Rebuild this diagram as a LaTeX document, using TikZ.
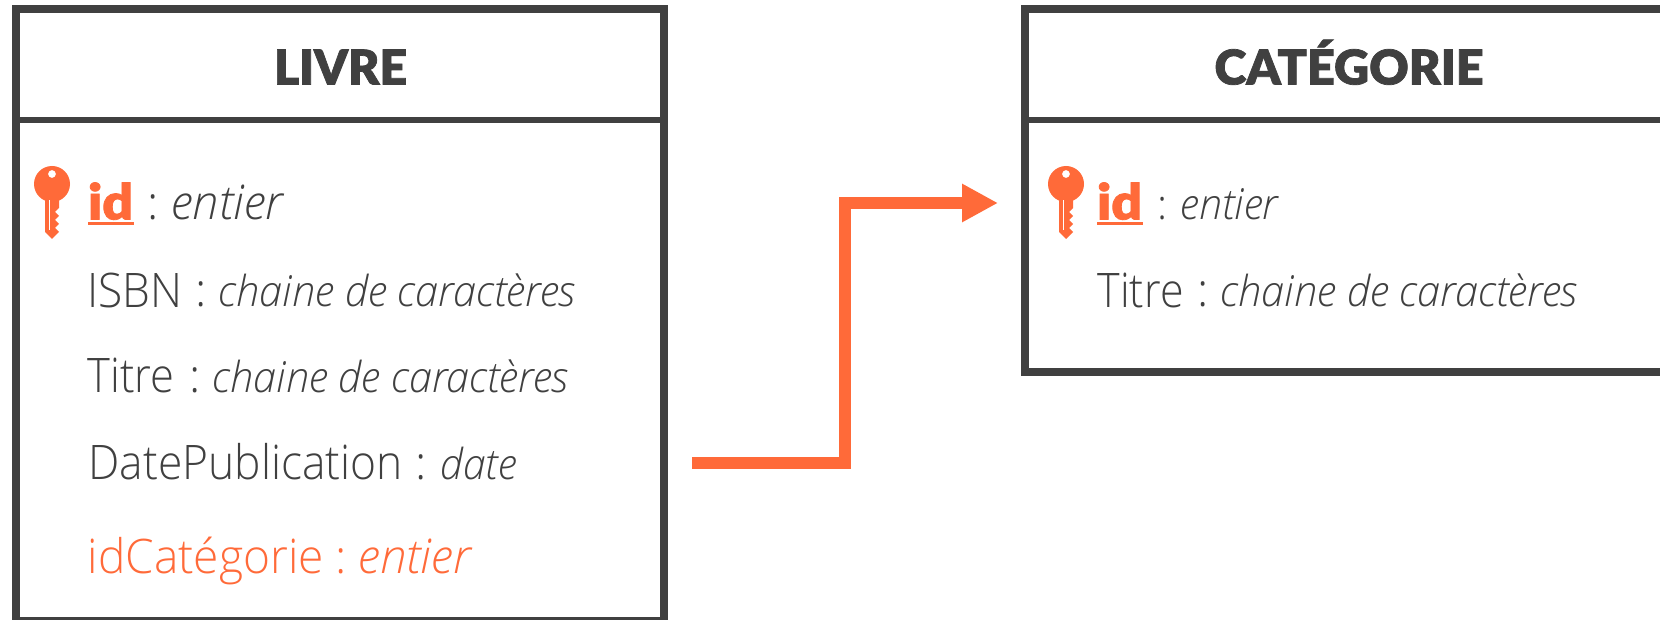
\documentclass[tikz,border=0pt]{standalone}
\usepackage{graphicx}
\usepackage{fontspec}
\usetikzlibrary{arrows.meta}
\setmainfont{Open Sans Light}[ItalicFont={Open Sans Light Italic}]
\newfontfamily\heavyf{Lato Black}[FakeBold=1.5]
\definecolor{ink}{HTML}{404040}
\definecolor{accent}{HTML}{FF6A39}
\newcommand{\pxl}[1]{\dimexpr #1pt*3/4\relax}
\newcommand{\fitw}[2]{\resizebox{\pxl{#1}}{\height}{#2}}
% colon centred at offset #1, italic part starting at offset #2, #3 wide
\newcommand{\tailtxt}[4]{%
  \makebox[0pt][l]{\hspace*{\pxl{#1}}\makebox[0pt][c]{:}}%
  \makebox[0pt][l]{\hspace*{\pxl{#2}}\fitw{#3}{\textit{#4}}}}
\newcommand{\rowtxt}[6]{\makebox[0pt][l]{\fitw{#2}{#1}}\tailtxt{#3}{#4}{#5}{#6}}
\newcommand{\keyshape}[2]{%
  \begin{scope}[shift={(#1,#2)}]
    \fill[accent,even odd rule] (0,0) circle[radius=18] (0,-10) circle[radius=4];
    \fill[accent] (-7,12) -- (-7,48) -- (0,55) -- (7,48) -- (3,44) -- (7,40) -- (3,36) -- (7,32) -- (3,28) -- (7,24) -- (7,12) -- cycle;
    \fill[white] (-3,16) rectangle (-2,46);
  \end{scope}}
\tikzset{
  x=0.75pt,y=-0.75pt,
  every node/.style={inner sep=0pt,outer sep=0pt},
  boxframe/.style={draw=ink,line width=6pt,rectangle,fill=none,anchor=north west},
  divider/.style={draw=ink,line width=4.5pt},
  title/.style={anchor=base,text=ink,font=\heavyf\fontsize{36}{36}\selectfont},
  row/.style={anchor=base west,text=ink,font=\fontsize{35.7}{36}\selectfont},
  smallital/.style={anchor=base west,text=ink,font=\fontsize{32}{36}\selectfont},
  keyrow/.style={anchor=base west,text=accent,font=\heavyf\fontsize{37}{36}\selectfont},
  link/.style={draw=accent,line width=9pt,line join=miter,-{Triangle[length=27pt,width=27pt]}},
}
\begin{document}
\begin{tikzpicture}
\useasboundingbox (0,0) rectangle (1660,620);
\clip (0,0) rectangle (1660,620);
\fill[white] (0,0) rectangle (1660,620);
% left table
\node[boxframe,minimum width=486pt,minimum height=459pt] (livre) at (16,9) {};
\coordinate (ldl) at (16,120);
\coordinate (ldr) at (664,120);
\draw[divider] (ldl) -- (ldr);
\node[title] (livretitle) at (340.5,84.5) {\fitw{133}{LIVRE}};
\keyshape{52}{184}
\node[keyrow] (lid) at (88,219.5) {\fitw{45}{id}};
\fill[accent] (88,222) rectangle (134,225);
\node[row] (lidt) at (140,219.5) {\tailtxt{12}{31}{113}{entier}};
\node[row] (lisbn) at (87,307) {\rowtxt{ISBN}{95}{113.5}{131}{357}{{\fontsize{32}{36}\selectfont chaine de caractères}}};
\node[row] (ltitre) at (87,392) {\rowtxt{Titre}{87}{107}{125}{356}{{\fontsize{32}{36}\selectfont chaine de caractères}}};
\node[row] (ldate) at (88,479) {\rowtxt{DatePublication}{314}{332.5}{352}{76}{{\fontsize{32}{36}\selectfont date}}};
\node[row,text=accent] (lcat) at (87,573) {\rowtxt{idCatégorie}{236}{253.5}{271}{114}{entier}};
% right table
\node[boxframe,minimum width=486pt,minimum height=272.25pt] (cat) at (1025,9) {};
\coordinate (rdl) at (1025,120);
\coordinate (rdr) at (1673,120);
\draw[divider] (rdl) -- (rdr);
\node[title] (cattitle) at (1349,84.5) {\fitw{269}{CATÉGORIE}};
\keyshape{1066}{184}
\node[keyrow] (rid) at (1097,219.5) {\fitw{45}{id}};
\fill[accent] (1097,222) rectangle (1143,225);
\node[smallital] (ridt) at (1150,219.5) {\tailtxt{11.5}{30}{99}{entier}};
\node[row] (rtitre) at (1097,307) {\rowtxt{Titre}{86}{105.5}{123}{357}{{\fontsize{32}{36}\selectfont chaine de caractères}}};
% connector
\coordinate (src) at (692,463);
\coordinate (bendA) at (844.5,463);
\coordinate (bendB) at (844.5,203);
\coordinate (dst) at (998,203);
\draw[link] (src) -- (bendA) -- (bendB) -- (dst);
\end{tikzpicture}
\end{document}
